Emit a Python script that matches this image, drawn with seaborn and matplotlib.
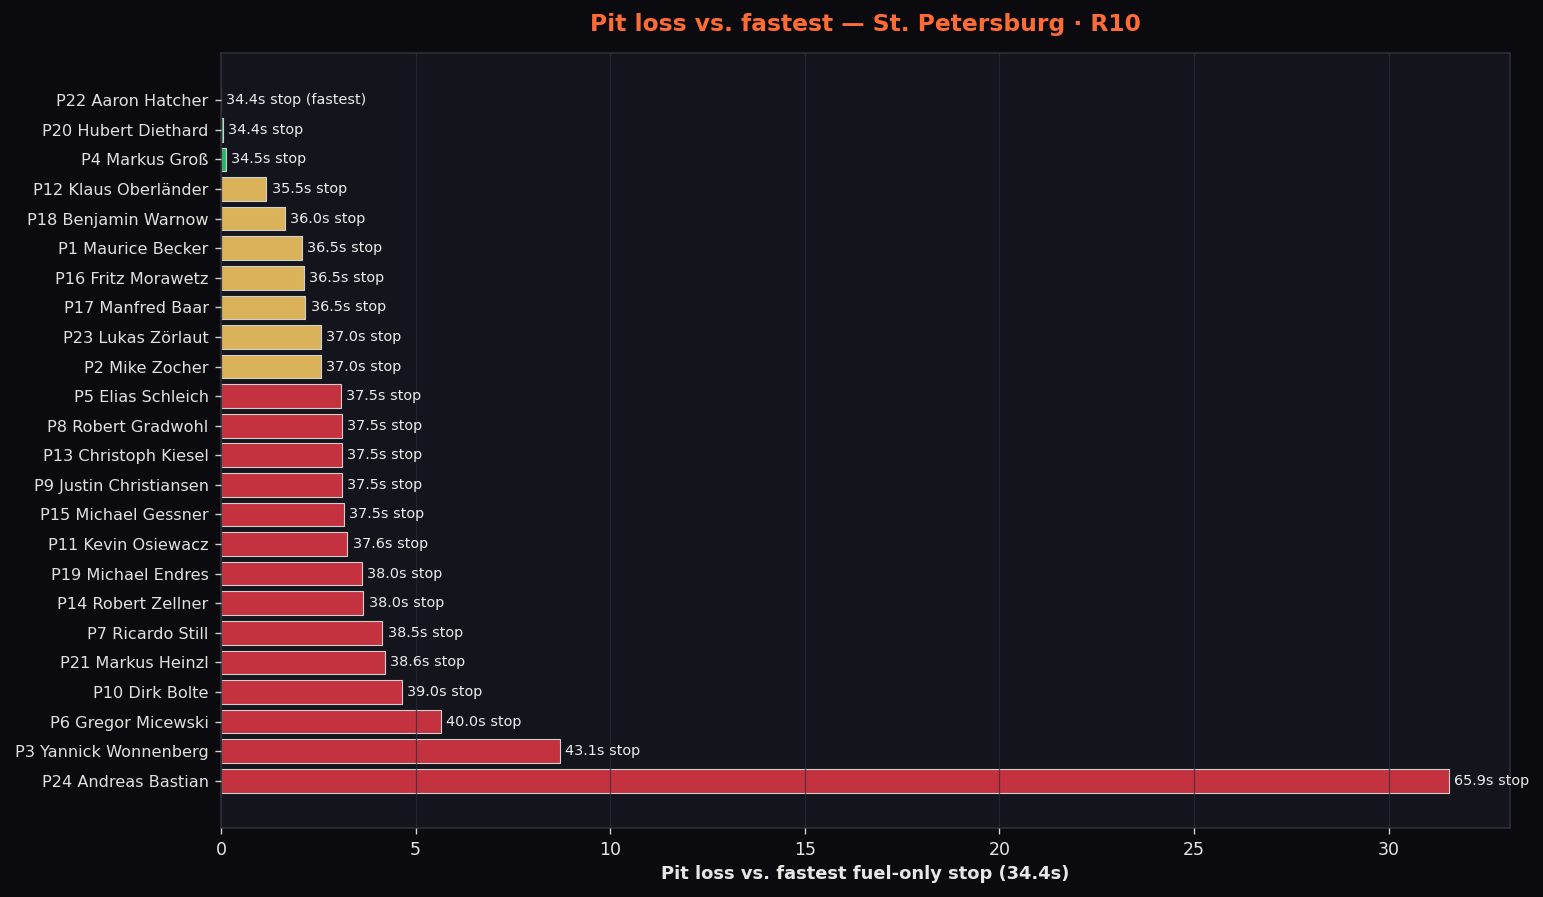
import matplotlib
matplotlib.use("Agg")
import matplotlib.pyplot as plt
import seaborn as sns
import pandas as pd

drivers = [
    "P22 Aaron Hatcher", "P20 Hubert Diethard", "P4 Markus Groß", "P12 Klaus Oberländer",
    "P18 Benjamin Warnow", "P1 Maurice Becker", "P16 Fritz Morawetz", "P17 Manfred Baar",
    "P23 Lukas Zörlaut", "P2 Mike Zocher", "P5 Elias Schleich", "P8 Robert Gradwohl",
    "P13 Christoph Kiesel", "P9 Justin Christiansen", "P15 Michael Gessner", "P11 Kevin Osiewacz",
    "P19 Michael Endres", "P14 Robert Zellner", "P7 Ricardo Still", "P21 Markus Heinzl",
    "P10 Dirk Bolte", "P6 Gregor Micewski", "P3 Yannick Wonnenberg", "P24 Andreas Bastian",
]
pit_loss = [0.0, 0.05, 0.12, 1.16, 1.64, 2.08, 2.13, 2.16, 2.57, 2.57, 3.08, 3.11,
            3.11, 3.11, 3.16, 3.24, 3.62, 3.65, 4.14, 4.21, 4.65, 5.65, 8.71, 31.54]
stop_times = [34.4, 34.4, 34.5, 35.5, 36.0, 36.5, 36.5, 36.5, 37.0, 37.0, 37.5, 37.5,
              37.5, 37.5, 37.5, 37.6, 38.0, 38.0, 38.5, 38.6, 39.0, 40.0, 43.1, 65.9]
fastest = 34.4

GREEN = "#2fb36a"
YELLOW = "#d9b25a"
RED = "#c4323f"

def colour(v):
    if v < 0.5:
        return GREEN
    if v < 3.0:
        return YELLOW
    return RED

df = pd.DataFrame({"driver": drivers, "loss": pit_loss, "stop": stop_times})
palette = {d: colour(v) for d, v in zip(drivers, pit_loss)}

sns.set_theme(style="dark")
plt.rcParams["font.family"] = ["DejaVu Sans"]

fig = plt.figure(figsize=(15.43, 8.97), dpi=100, facecolor="#0b0b0f")
ax = fig.add_axes([221 / 1543, 1 - 828 / 897, (1510 - 221) / 1543, (828 - 53) / 897])
ax.set_facecolor("#13141c")

sns.barplot(data=df, x="loss", y="driver", hue="driver", palette=palette, legend=False,
            orient="h", width=0.8, edgecolor="#d0d0d0", linewidth=0.8, ax=ax, saturation=1)

xmax = max(pit_loss) * 1.05
ax.set_xlim(0, xmax)
ax.set_ylim(len(drivers) - 1 + 1.6, -1.6)

for i, (v, s) in enumerate(zip(pit_loss, stop_times)):
    lab = f"{s:.1f}s stop" + (" (fastest)" if i == 0 else "")
    ax.text(v + 0.14, i, lab, va="center", ha="left", color="#ececec", fontsize=10.4)

ax.set_axisbelow(False)
ax.grid(axis="x", color="#2a2b36", alpha=0.7, linewidth=0.9)
ax.grid(axis="y", visible=False)
for sp in ax.spines.values():
    sp.set_color("#2c2d36")
    sp.set_linewidth(1.2)

ax.tick_params(axis="both", colors="#d0d0d0", length=4, width=1, direction="out",
               bottom=True, left=True)
ax.tick_params(axis="x", labelsize=12.5, labelcolor="#e6e6e6", pad=5)
ax.tick_params(axis="y", labelsize=11.6, labelcolor="#e0e0e0", pad=5)
ax.set_ylabel("")
ax.set_xlabel(f"Pit loss vs. fastest fuel-only stop ({fastest:.1f}s)", color="#e6e6e6",
              fontsize=12.9, fontweight="bold", labelpad=5)
ax.set_title("Pit loss vs. fastest — St. Petersburg · R10", color="#ff6b35",
             fontsize=16.8, fontweight="bold", pad=16)

fig.savefig("out.png", dpi=100, facecolor=fig.get_facecolor())
